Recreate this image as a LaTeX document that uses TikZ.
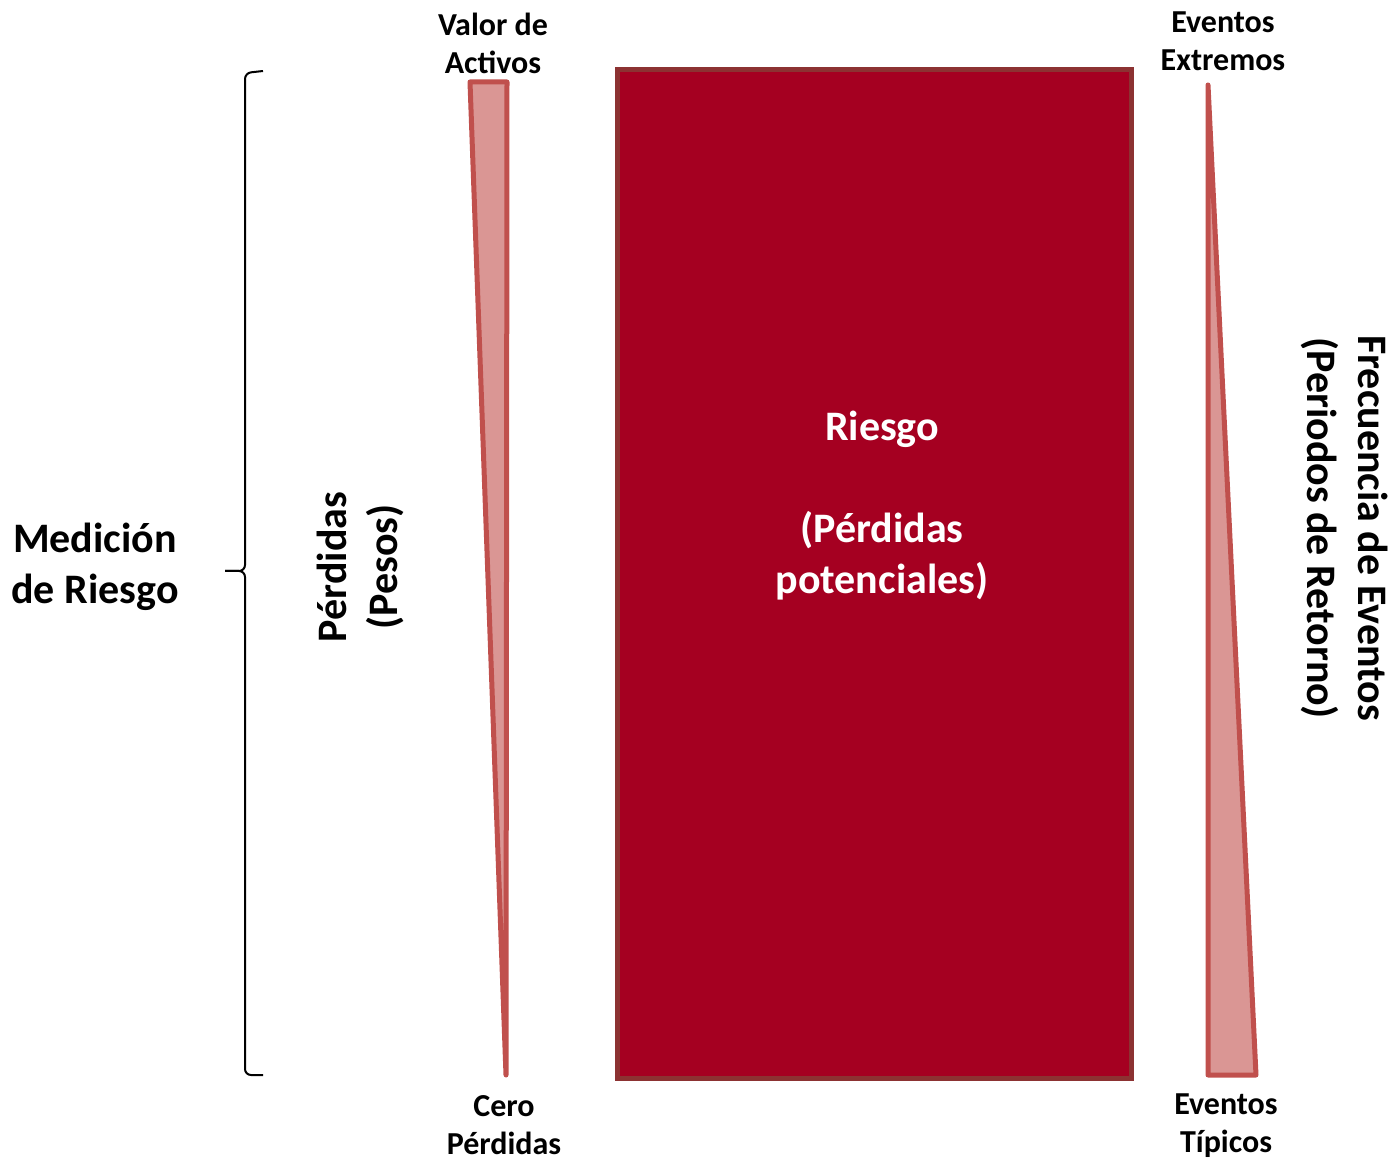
\documentclass[tikz,border=0pt]{standalone}
\usepackage{fontspec}
\setmainfont{Carlito}
\definecolor{riesgo}{RGB}{165,0,33}
\definecolor{riesgoborde}{RGB}{140,50,50}
\definecolor{cuna}{RGB}{218,150,148}
\definecolor{cunaborde}{RGB}{192,80,77}
\tikzset{
  etiqueta/.style={font=\bfseries\fontsize{16}{19}\selectfont, align=center},
  grande/.style={font=\bfseries\fontsize{21}{25.5}\selectfont, align=center},
  cunita/.style={fill=cuna, draw=cunaborde, line width=2.5pt, line join=round},
  llave/.style={line width=1pt, rounded corners=3pt}
}
\begin{document}
\begin{tikzpicture}[x=0.5pt,y=-0.5pt]
        \useasboundingbox (0,0) rectangle (1394,1160);

        % Llave
        \coordinate (L1) at (263,71);
        \coordinate (L2) at (263,1075);
        \coordinate (Lp) at (225,571);
        \draw[llave] (L1) -- (245,73) -- (245,571) -- (Lp);
        \draw[llave] (Lp) -- (245,571) -- (245,1075) -- (L2);
        \node[grande] (medicion) at (95,567) {Medición\\de Riesgo};

        % Cuña de pérdidas
        \coordinate (A1) at (470,82);
        \coordinate (A2) at (507,82);
        \coordinate (A3) at (506,1075);
        \draw[cunita] (A1) -- (A2) -- (A3) -- cycle;
        \node[etiqueta] (valor) at (493,43) {Valor de\\Activos};
        \node[etiqueta] (cero) at (504,1125) {Cero\\Pérdidas};
        \node[grande, rotate=90] (perdidas) at (360,567) {Pérdidas\\(Pesos)};

        % Riesgo
        \draw[fill=riesgo, draw=riesgoborde, line width=2.5pt] (617,70) rectangle (1131,1078);
        \node[grande, text=white] (riesgotxt) at (882,506)
            {Riesgo\\[\baselineskip](Pérdidas\\potenciales)};

        % Cuña de frecuencia
        \coordinate (B1) at (1208,85);
        \coordinate (B2) at (1256,1075);
        \coordinate (B3) at (1208,1075);
        \draw[cunita] (B1) -- (B2) -- (B3) -- cycle;
        \node[etiqueta] (extremos) at (1223,41) {Eventos\\Extremos};
        \node[etiqueta] (tipicos) at (1226,1126) {Eventos\\Típicos};
        \node[grande, rotate=-90] (frecuencia) at (1345,528)
            {Frecuencia de Eventos\\(Periodos de Retorno)};
\end{tikzpicture}
\end{document}
